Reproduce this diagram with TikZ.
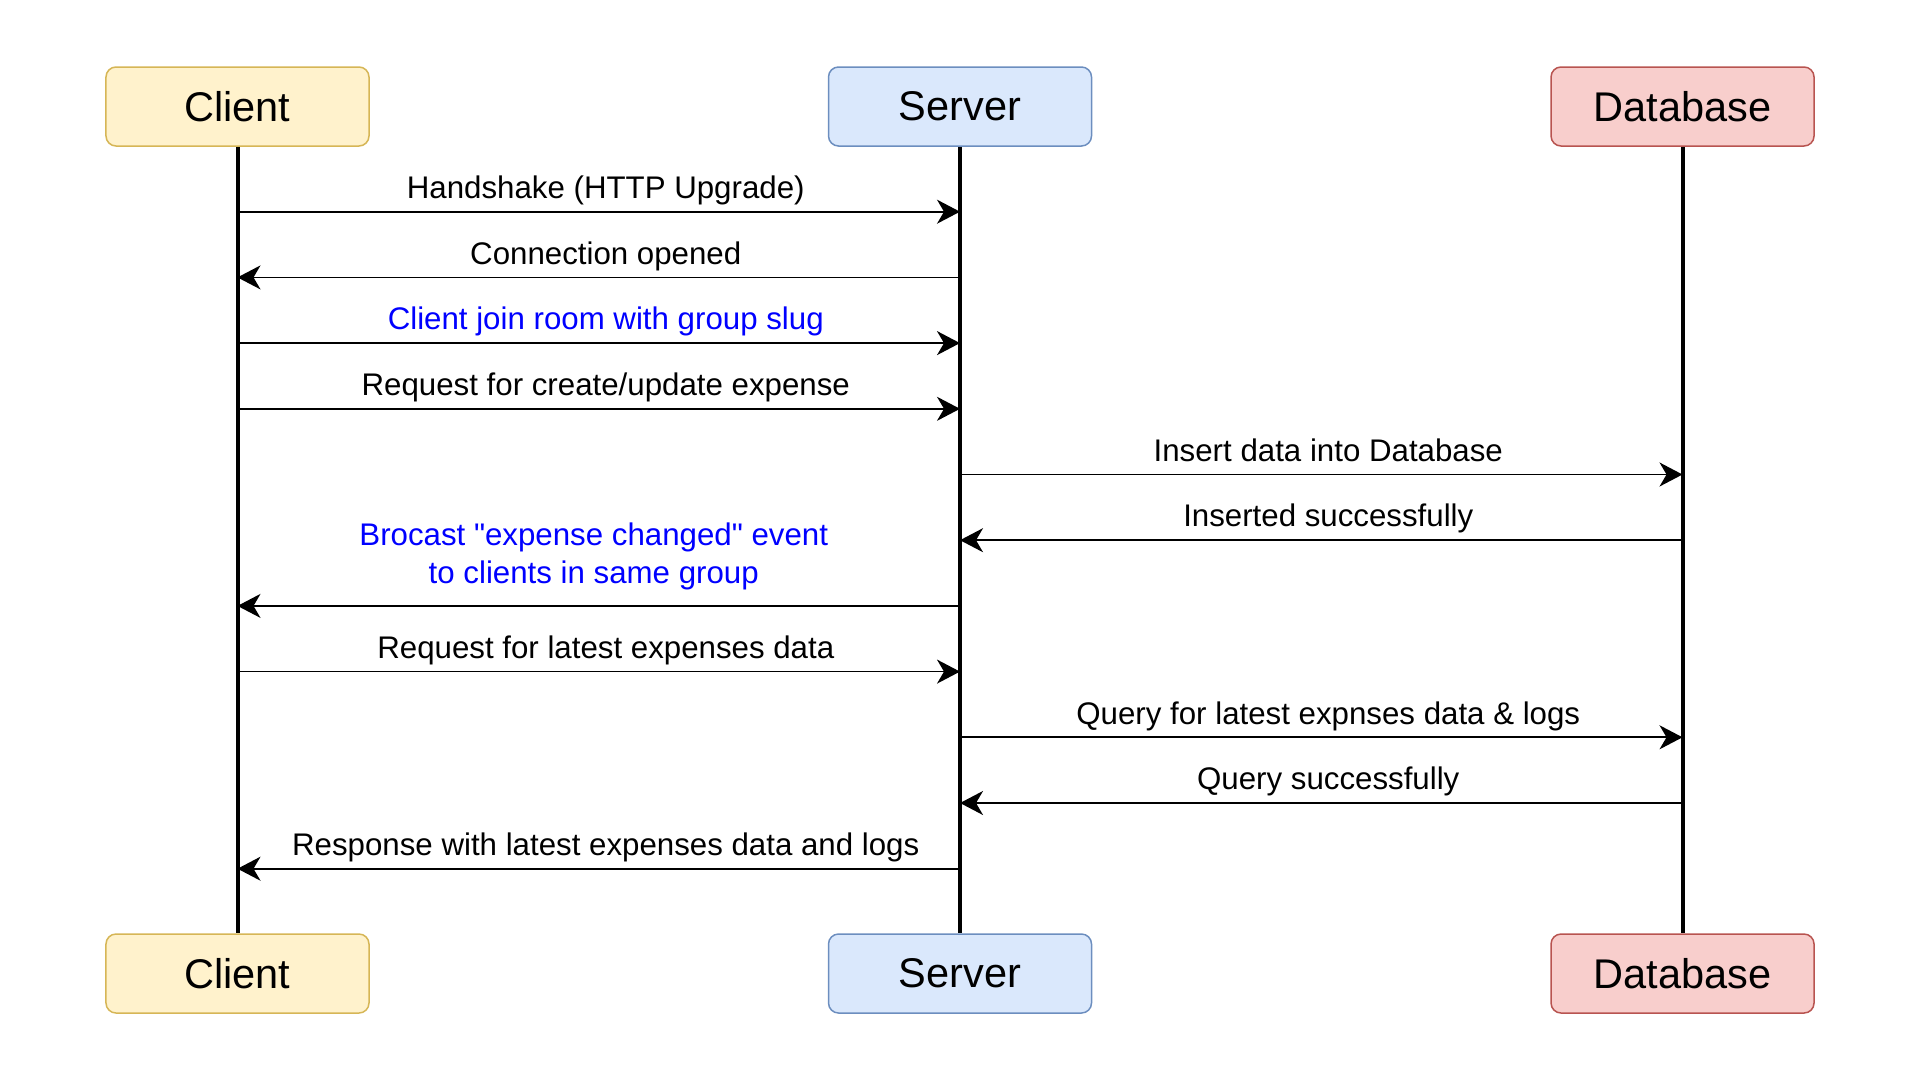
\documentclass[tikz,border=0pt]{standalone}
\usepackage{xcolor}
\usepackage{fontspec}
\setmainfont{Liberation Sans}
\newfontfamily\plainsans{Liberation Sans}
\usepackage{tikz}
\usetikzlibrary{positioning}
\usetikzlibrary{arrows.meta}
\definecolor{clientfill}{HTML}{FFF2CC}
\definecolor{clientline}{HTML}{D6B656}
\definecolor{serverfill}{HTML}{DAE8FC}
\definecolor{serverline}{HTML}{6C8EBF}
\definecolor{dbfill}{HTML}{F8CECC}
\definecolor{dbline}{HTML}{B85450}
\definecolor{eventblue}{HTML}{0000FF}
\tikzset{message/.style = {->, line width=0.7pt, > = {Stealth[length=9.2pt,width=9.6pt,inset=2.8pt]}}}

\begin{document}
\begin{tikzpicture}[x=0.4pt,y=-0.4pt,node distance=289pt,
    actor/.style={rectangle,rounded corners=4pt,draw,line width=0.6pt,minimum width=105.2pt,minimum height=31.6pt,font=\plainsans\fontsize{16.6}{20}\selectfont},
    msg/.style={anchor=base,xshift=2.8pt,yshift=5.3pt,font=\plainsans\fontsize{12.5}{15.2}\selectfont},
    life/.style={line width=1.6pt}]
            \useasboundingbox (0,0) rectangle (1920,1080);

            \node[actor,fill=clientfill,draw=clientline] (1) at (237.5,106.5) {Client};
            \node[actor,fill=serverfill,draw=serverline] (2) [right of=1] {Server};
            \node[actor,fill=dbfill,draw=dbline] (3) [right of=2] {Database};
            \node[actor,fill=clientfill,draw=clientline] (4) [below of=1,node distance=346.8pt] {Client};
            \node[actor,fill=serverfill,draw=serverline] (5) [below of=2,node distance=346.8pt] {Server};
            \node[actor,fill=dbfill,draw=dbline] (6) [below of=3,node distance=346.8pt] {Database};

            \draw[life] (1) -- (4);
            \draw[life] (2) -- (5);
            \draw[life] (3) -- (6);

            % one row per message
            \foreach \i in {0,...,10}
                \coordinate (m\i) at (0,{211.7+65.7*\i});

            \path[message] (1 |- m0) edge node[msg] {Handshake (HTTP Upgrade)} (2 |- m0);
            \path[message] (2 |- m1) edge node[msg] {Connection opened} (1 |- m1);
            \path[message] (1 |- m2) edge node[msg,text=eventblue] {Client join room with group slug} (2 |- m2);
            \path[message] (1 |- m3) edge node[msg] {Request for create/update expense} (2 |- m3);
            \path[message] (2 |- m4) edge node[msg] {Insert data into Database} (3 |- m4);
            \path[message] (3 |- m5) edge node[msg] {Inserted successfully} (2 |- m5);
            \path[message] (2 |- m6) edge node[msg,align=center,xshift=-4.8pt,yshift=3.5pt,text=eventblue] {Brocast "expense changed" event\\to clients in same group} (1 |- m6);
            \path[message] (1 |- m7) edge node[msg] {Request for latest expenses data} (2 |- m7);
            \path[message] (2 |- m8) edge node[msg] {Query for latest expnses data \& logs} (3 |- m8);
            \path[message] (3 |- m9) edge node[msg] {Query successfully} (2 |- m9);
            \path[message] (2 |- m10) edge node[msg] {Response with latest expenses data and logs} (1 |- m10);

        \end{tikzpicture}
\end{document}
